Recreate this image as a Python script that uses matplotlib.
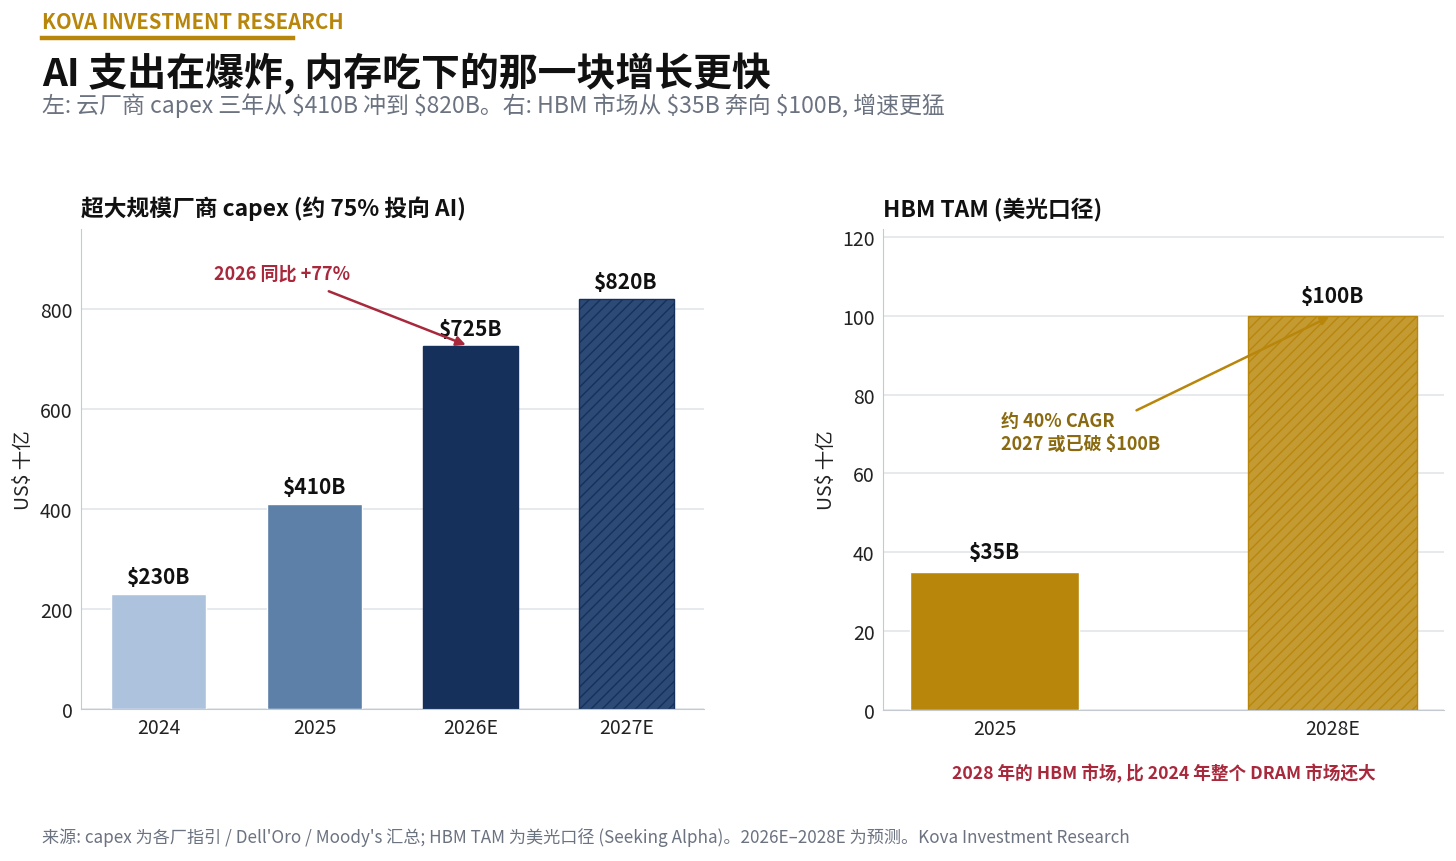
import matplotlib.pyplot as plt

plt.rcParams['font.family'] = ['Noto Sans CJK SC', 'DejaVu Sans']
plt.rcParams['text.parse_math'] = False
plt.rcParams['hatch.linewidth'] = 1.0

# 数据
capex_years = ["2024", "2025", "2026E", "2027E"]
capex_values = [230, 410, 725, 820]
capex_labels = ["$230B", "$410B", "$725B", "$820B"]

hbm_years = ["2025", "2028E"]
hbm_values = [35, 100]
hbm_labels = ["$35B", "$100B"]

# 颜色
GOLD = "#b8860b"
NAVY = "#15315b"
CRIMSON = "#a8283c"
GREY = "#6b7280"
GRID = "#e3e6ea"
SPINE = "#c5cad1"
capex_colors = ["#adc2dc", "#5d80a8", NAVY, "#2c4a75"]

fig = plt.figure(figsize=(14.56, 8.62), dpi=100)

# 头部
fig.text(0.029, 0.974, "KOVA INVESTMENT RESEARCH", color=GOLD, fontsize=14.6,
         fontweight="bold", va="center", ha="left")
fig.add_artist(plt.Line2D([0.029, 0.2015], [0.9548, 0.9548], color=GOLD,
                          linewidth=3.2, transform=fig.transFigure))
fig.text(0.029, 0.915, "AI 支出在爆炸, 内存吃下的那一块增长更快", color="#111111",
         fontsize=28, fontweight="bold", va="center", ha="left")
fig.text(0.029, 0.878,
         "左: 云厂商 capex 三年从 $410B 冲到 $820B。右: HBM 市场从 $35B 奔向 $100B, 增速更猛",
         color=GREY, fontsize=16.5, va="center", ha="left")


def style_axes(ax):
    for side in ["top", "right"]:
        ax.spines[side].set_visible(False)
    for side in ["left", "bottom"]:
        ax.spines[side].set_color(SPINE)
    ax.yaxis.grid(True, color=GRID, linewidth=1.2)
    ax.set_axisbelow(True)
    ax.tick_params(length=0, labelsize=14, colors="#222222", pad=6)
    ax.set_ylabel("US$ 十亿", fontsize=14, color="#222222")


# 左图: capex
ax1 = fig.add_axes([0.0556, 0.1763, 0.428, 0.557])
x1 = range(len(capex_years))
bars = ax1.bar(x1, capex_values, width=0.61, color=capex_colors,
               edgecolor="white", linewidth=1)
bars[2].set_edgecolor(NAVY)
bars[3].set_edgecolor(NAVY)
bars[3].set_hatch("///")
for i, (v, lab) in enumerate(zip(capex_values, capex_labels)):
    ax1.annotate(lab, (i, v), xytext=(0, 5), textcoords="offset points",
                 ha="center", va="bottom", fontsize=15, fontweight="bold",
                 color="#111111")
ax1.set_xticks(list(x1), capex_years)
ax1.set_yticks([0, 200, 400, 600, 800])
ax1.set_xlim(-0.5, 3.5)
ax1.set_ylim(0, 960)
style_axes(ax1)
ax1.set_title("超大规模厂商 capex (约 75% 投向 AI)", loc="left", fontsize=16.4,
              fontweight="bold", color="#111111", pad=10)
ax1.annotate("2026 同比 +77%", xy=(1.97, 728), xytext=(0.79, 872),
             ha="center", va="center", fontsize=13, fontweight="bold",
             color=CRIMSON,
             arrowprops=dict(arrowstyle="-|>", color=CRIMSON, lw=1.8,
                             shrinkA=12, shrinkB=0, mutation_scale=14))

# 右图: HBM TAM
ax2 = fig.add_axes([0.6065, 0.1752, 0.3853, 0.558])
x2 = range(len(hbm_years))
hb = ax2.bar(x2, hbm_values, width=0.5, color=[GOLD, "#c49a32"],
             edgecolor=["white", GOLD], linewidth=1)
hb[1].set_hatch("///")
for i, (v, lab) in enumerate(zip(hbm_values, hbm_labels)):
    ax2.annotate(lab, (i, v), xytext=(0, 7), textcoords="offset points",
                 ha="center", va="bottom", fontsize=15, fontweight="bold",
                 color="#111111")
ax2.set_xticks(list(x2), hbm_years)
ax2.set_yticks([0, 20, 40, 60, 80, 100, 120])
ax2.set_xlim(-0.33, 1.33)
ax2.set_ylim(0, 122)
style_axes(ax2)
ax2.set_title("HBM TAM (美光口径)", loc="left", fontsize=16.4,
              fontweight="bold", color="#111111", pad=10)
ax2.annotate("", xy=(0.99, 99.7), xytext=(0.42, 76),
             arrowprops=dict(arrowstyle="-|>", color=GOLD, lw=1.8,
                             shrinkA=0, shrinkB=0, mutation_scale=12))
ax2.text(0.02, 70.5, "约 40% CAGR\n2027 或已破 $100B", ha="left", va="center",
         fontsize=13, fontweight="bold", color="#8a6a10", linespacing=1.25)
ax2.text(0.5, -0.13, "2028 年的 HBM 市场, 比 2024 年整个 DRAM 市场还大",
         transform=ax2.transAxes, ha="center", va="center", fontsize=12.7,
         fontweight="bold", color=CRIMSON)

# 脚注
fig.text(0.029, 0.028,
         "来源: capex 为各厂指引 / Dell'Oro / Moody's 汇总; HBM TAM 为美光口径 (Seeking Alpha)。2026E–2028E 为预测。Kova Investment Research",
         color=GREY, fontsize=12.3, va="center", ha="left")

fig.savefig("out.png", dpi=100)
